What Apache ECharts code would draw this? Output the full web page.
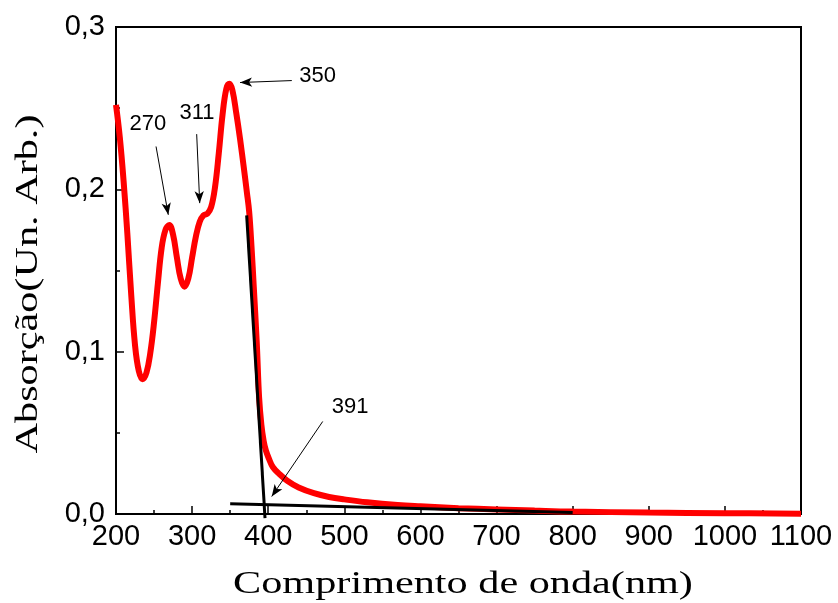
<!DOCTYPE html>
<html>
<head>
<meta charset="utf-8">
<script src="https://cdn.jsdelivr.net/npm/echarts@6/dist/echarts.min.js"></script>
<style>html,body{margin:0;padding:0;background:#fff}#c{width:838px;height:603px}</style>
</head>
<body>
<div id="c"></div>
<script>
// Absorption spectrum (nm, absorbance)
const wavelength = [200,205,210,215,220,225,230,235,240,245,250,255,260,265,270,275,280,285,290,295,300,305,310,315,320,325,330,335,340,345,349,353,358,363,368,372,375,378,381,385,388,391,394,397,401,406,415,425,440,460,480,500,530,570,600,650,700,750,800,900,1000,1100];
const absorbance = [0.252,0.232,0.205,0.172,0.135,0.104,0.088,0.083,0.087,0.099,0.118,0.142,0.164,0.175,0.178,0.172,0.158,0.145,0.140,0.145,0.158,0.171,0.180,0.184,0.185,0.189,0.201,0.222,0.246,0.262,0.265,0.261,0.247,0.231,0.213,0.198,0.186,0.165,0.140,0.105,0.072,0.055,0.045,0.039,0.034,0.029,0.0245,0.0205,0.0163,0.0128,0.0105,0.009,0.0072,0.0055,0.0047,0.0036,0.0028,0.0021,0.0015,0.0009,0.0005,0.0002];
// tangent lines (onset construction)
const tangentSteep = [[371.7,0.184],[395.8,-0.0025]];
const tangentBase = [[350,0.0063],[800,0.001]];
// annotations
const annLabels = ['270','311','350','391'];
const annTextPos = [[242,0.240],[306.5,0.247],[465,0.270],[507.5,0.066]];
const annTail = [[252.6,0.2264],[306,0.234],[431,0.267],[471.6,0.057]];
const annHead = [[268.7,0.1843],[310,0.1915],[363,0.2658],[404.6,0.0108]];
// axes
const xMin = 200, xMax = 1100, xStep = 100;
const yMin = 0, yMax = 0.3, yStep = 0.1;
const xTitle = 'Comprimento de onda(nm)';
const yTitle = 'Absorção(Un. Arb.)';

const chart = echarts.init(document.getElementById('c'), null, {renderer:'canvas'});
const sans = "'Liberation Sans', Arial, sans-serif";
const serifFont = "32px 'Liberation Serif', 'Times New Roman', serif";

const option = {
  animation: false,
  backgroundColor: '#fff',
  grid: {left:116, right:37, top:27, bottom:89, outerBoundsMode:'none', containLabel:false,
         show:true, borderColor:'#000', borderWidth:2, backgroundColor:'transparent'},
  xAxis: {
    type:'value', min:xMin, max:xMax, interval:xStep,
    axisLine:{show:true, onZero:false, lineStyle:{color:'#000', width:2}},
    axisTick:{show:true, inside:true, length:8, lineStyle:{color:'#000', width:1.5}},
    minorTick:{show:true, splitNumber:2, length:4, lineStyle:{color:'#000', width:1.5}},
    splitLine:{show:false},
    axisLabel:{color:'#000', fontFamily:sans, fontSize:29, margin:8, formatter: v => String(v)}
  },
  yAxis: {
    type:'value', min:yMin, max:yMax, interval:yStep,
    axisLine:{show:true, onZero:false, lineStyle:{color:'#000', width:2}},
    axisTick:{show:true, inside:true, length:8, lineStyle:{color:'#000', width:1.5}},
    minorTick:{show:true, splitNumber:2, length:4, lineStyle:{color:'#000', width:1.5}},
    splitLine:{show:false},
    axisLabel:{color:'#000', fontFamily:sans, fontSize:29, margin:11, formatter: v => v.toFixed(1).replace('.', ',')}
  },
  graphic: [
    {type:'text', x:463, y:585, scaleX:1.32, silent:true,
     style:{text:xTitle, font:serifFont, fill:'#000', align:'center', verticalAlign:'middle'}},
    {type:'text', x:29, y:284, rotation:Math.PI/2, scaleX:1.32, silent:true,
     style:{text:yTitle, font:serifFont, fill:'#000', align:'center', verticalAlign:'middle'}}
  ],
  series: [
    {
      type:'line', data: wavelength.map((x,i)=>[x, absorbance[i]]),
      showSymbol:false, smooth:0.4,
      lineStyle:{color:'#ff0000', width:6}, z:2
    },
    {
      type:'line', data: tangentSteep, showSymbol:false, clip:false,
      lineStyle:{color:'#000', width:3}, z:3
    },
    {
      type:'line', data: tangentBase, showSymbol:false, clip:false,
      lineStyle:{color:'#000', width:3}, z:3,
      markLine:{
        silent:true, symbol:['none','arrow'], symbolSize:[7,12],
        label:{show:false}, lineStyle:{color:'#000', width:1, type:'solid'},
        data: annTail.map((t,i)=>[{coord:t},{coord:annHead[i]}])
      }
    },
    {
      type:'scatter', symbolSize:0, silent:true, z:4,
      itemStyle:{opacity:1},
      data: annTextPos.map((p,i)=>({value:p, name:annLabels[i]})),
      label:{show:true, position:'inside', formatter:'{b}', color:'#000', fontFamily:sans, fontSize:22}
    }
  ]
};
chart.setOption(option);
</script>
</body>
</html>
